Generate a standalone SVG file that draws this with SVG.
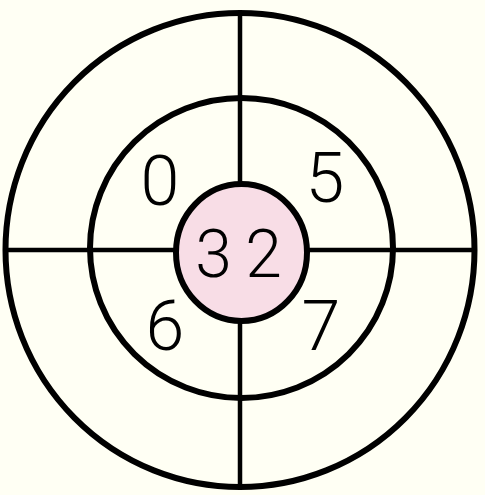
<svg xmlns="http://www.w3.org/2000/svg" width="485" height="495" viewBox="0 0 485 495">
<style>
.ring{fill:none;stroke:#000;stroke-width:6}
.line{stroke:#000;stroke-width:4.5}
.num{font-family:Roboto,"Liberation Sans",sans-serif;font-weight:300;fill:#000;text-anchor:middle}
</style>
<rect width="485" height="495" fill="#fffff4"/>
<g id="connectors">
<line class="line" x1="240" y1="13" x2="240" y2="487"/>
<line class="line" x1="5" y1="250" x2="475" y2="250"/>
</g>
<g id="outer-ring"><ellipse class="ring" cx="240" cy="250" rx="234.5" ry="237"/></g>
<g id="middle-ring"><ellipse class="ring" cx="241.5" cy="248" rx="151.5" ry="150"/></g>
<g id="center">
<ellipse cx="241.5" cy="252.5" rx="65.5" ry="68.5" fill="#f8dde6" stroke="#000" stroke-width="6"/>
<text class="num" x="213.5 263.5" y="277" font-size="66">32</text>
</g>
<g id="n0"><text class="num" x="160" y="205" font-size="70">0</text></g>
<g id="n5"><text class="num" x="325" y="202" font-size="70">5</text></g>
<g id="n6"><text class="num" x="165" y="350" font-size="70">6</text></g>
<g id="n7"><text class="num" x="321" y="350" font-size="70">7</text></g>
</svg>
